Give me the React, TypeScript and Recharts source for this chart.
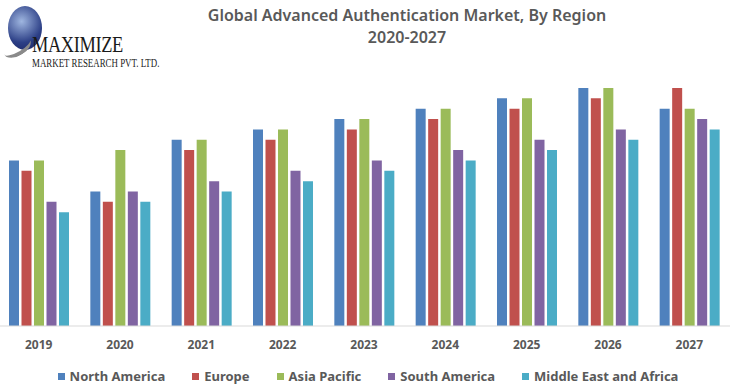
import React from "react";
import { BarChart, Bar, XAxis, YAxis } from "recharts";

const years = ["2019", "2020", "2021", "2022", "2023", "2024", "2025", "2026", "2027"];
const northAmerica = [16, 13, 18, 19, 20, 21, 22, 23, 21];
const europe = [15, 12, 17, 18, 19, 20, 21, 22, 23];
const asiaPacific = [16, 17, 18, 19, 20, 21, 22, 23, 21];
const southAmerica = [12, 13, 14, 15, 16, 17, 18, 19, 20];
const middleEastAfrica = [11, 12, 13, 14, 15, 16, 17, 18, 19];

const seriesNames = ["North America", "Europe", "Asia Pacific", "South America", "Middle East and Africa"];
const seriesKeys = ["na", "eu", "ap", "sa", "mea"];
const seriesColors = ["#4F81BD", "#C0504D", "#9BBB59", "#8064A2", "#4BACC6"];

const data = years.map((y, i) => ({
  year: y,
  na: northAmerica[i],
  eu: europe[i],
  ap: asiaPacific[i],
  sa: southAmerica[i],
  mea: middleEastAfrica[i],
}));

const FONT = "'Noto Sans', 'Open Sans', sans-serif";

export default function App() {
  return (
    <div style={{ position: "absolute", left: 0, top: 0, width: 730, height: 389, background: "#fff", overflow: "hidden", fontFamily: FONT }}>
      {/* Logo */}
      <div style={{ position: "absolute", left: 8, top: 6, width: 34, height: 44, borderRadius: "50%", background: "radial-gradient(circle at 40% 35%, #9fb6e0, #2c3f86 60%, #1a2260)" }} />
      <div style={{ position: "absolute", left: 2, top: 38, width: 30, height: 14, borderRadius: "50%", borderBottom: "4px solid #8a8a8a", transform: "rotate(-30deg)" }} />
      <div style={{ position: "absolute", left: 32, top: 32, fontFamily: "'Liberation Serif', 'DejaVu Serif', serif", fontSize: 23, color: "#1a1a1a", transform: "scaleX(0.8)", transformOrigin: "left top", letterSpacing: -0.5, whiteSpace: "nowrap" }}>MAXIMIZE</div>
      <div style={{ position: "absolute", left: 32, top: 56, fontFamily: "'Liberation Serif', 'DejaVu Serif', serif", fontSize: 12, color: "#1a1a1a", transform: "scaleX(0.74)", transformOrigin: "left top", whiteSpace: "nowrap" }}>MARKET RESEARCH PVT. LTD.</div>

      {/* Title */}
      <div style={{ position: "absolute", left: 0, width: 814, top: 4, textAlign: "center", fontSize: 16, fontWeight: 600, color: "#595959", lineHeight: "22px" }}>
        Global Advanced Authentication Market, By Region
        <br />
        2020-2027
      </div>

      <div style={{ position: "absolute", left: -2, top: 0 }}>
        <BarChart
          width={732}
          height={389}
          data={data}
          margin={{ top: 88, right: 0, left: 0, bottom: 43 }}
          barSize={10}
          barGap={2.5}
        >
          <XAxis
            dataKey="year"
            height={20}
            tickLine={false}
            tickSize={6}
            tickMargin={8}
            axisLine={{ stroke: "#D9D9D9", strokeWidth: 1 }}
            tick={{ fill: "#595959", fontSize: 12, fontWeight: 700, fontFamily: FONT }}
            interval={0}
          />
          <YAxis hide domain={[0, 23]} />
          {seriesKeys.map((k, i) => (
            <Bar key={k} dataKey={k} name={seriesNames[i]} fill={seriesColors[i]} isAnimationActive={false} />
          ))}
        </BarChart>
      </div>

      {/* Legend */}
      <div style={{ position: "absolute", left: 3, width: 730, top: 367, display: "flex", justifyContent: "center", gap: 27, fontSize: 13, fontWeight: 700, color: "#595959" }}>
        {seriesNames.map((n, i) => (
          <div key={n} style={{ display: "flex", alignItems: "center", whiteSpace: "nowrap" }}>
            <span style={{ display: "inline-block", width: 7, height: 7, background: seriesColors[i], marginRight: 5 }} />
            {n}
          </div>
        ))}
      </div>
    </div>
  );
}
